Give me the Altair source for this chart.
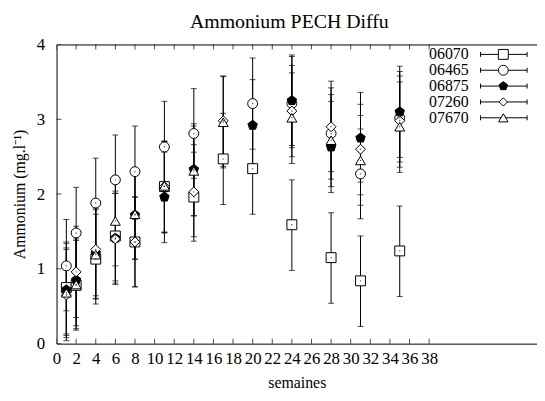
import altair as alt
import pandas as pd

FONT = "Liberation Serif"

title_text = "Ammonium PECH Diffu"
x_title = "semaines"
y_title = "Ammonium (mg.l\u207b\u00b9)"

names = ["06070", "06465", "06875", "07260", "07670"]
shapes = ["square", "circle",
          "M0,-1L0.951,-0.309L0.588,0.809L-0.588,0.809L-0.951,-0.309Z",
          "diamond", "triangle-up"]
fills = ["white", "white", "black", "white", "white"]
sizes = [100, 100, 80, 70, 90]

# 06070 (square)
w_06070 = [1, 2, 4, 6, 8, 11, 14, 17, 20, 24, 28, 31, 35]
v_06070 = [0.75, 0.78, 1.13, 1.44, 1.36, 2.10, 1.96, 2.47, 2.34, 1.59, 1.15, 0.84, 1.24]
lo_06070 = [0.13, 0.18, 0.53, 0.84, 0.76, 1.49, 1.37, 1.86, 1.73, 0.98, 0.54, 0.23, 0.63]
hi_06070 = [1.36, 1.38, 1.73, 2.04, 1.96, 2.70, 2.56, 3.08, 2.94, 2.19, 1.75, 1.44, 1.84]

# 06465 (circle)
w_06465 = [1, 2, 4, 6, 8, 11, 14, 20, 24, 28, 31, 35]
v_06465 = [1.04, 1.48, 1.88, 2.19, 2.30, 2.63, 2.81, 3.21, 3.21, 2.81, 2.27, 3.02]
lo_06465 = [0.44, 0.87, 1.28, 1.59, 1.70, 2.03, 2.21, 2.60, 2.62, 2.20, 1.67, 2.43]
hi_06465 = [1.66, 2.09, 2.48, 2.79, 2.91, 3.24, 3.41, 3.82, 3.84, 3.42, 2.87, 3.64]

# 06875 (filled pentagon)
w_06875 = [1, 2, 4, 6, 8, 11, 14, 20, 24, 28, 31, 35]
v_06875 = [0.72, 0.85, 1.21, 1.41, 1.72, 1.96, 2.33, 2.92, 3.25, 2.63, 2.75, 3.10]
lo_06875 = [0.11, 0.24, 0.60, 0.81, 1.13, 1.35, 1.71, 2.32, 2.65, 2.02, 2.16, 2.49]
hi_06875 = [1.34, 1.45, 1.81, 2.01, 2.32, 2.56, 2.94, 3.53, 3.86, 3.24, 3.36, 3.71]

# 07260 (diamond)
w_07260 = [1, 2, 4, 6, 8, 11, 14, 17, 24, 28, 31, 35]
v_07260 = [0.65, 0.96, 1.26, 1.40, 1.36, 2.10, 2.03, 2.98, 3.11, 2.90, 2.60, 2.98]
lo_07260 = [0.04, 0.35, 0.64, 0.79, 0.76, 1.49, 1.43, 2.37, 2.50, 2.30, 1.99, 2.36]
hi_07260 = [1.26, 1.57, 1.86, 2.01, 1.96, 2.70, 2.66, 3.58, 3.72, 3.51, 3.20, 3.58]

# 07670 (triangle)
w_07670 = [1, 2, 4, 6, 8, 11, 14, 17, 24, 28, 31, 35]
v_07670 = [0.68, 0.79, 1.19, 1.64, 1.73, 2.11, 2.31, 2.96, 3.02, 2.72, 2.45, 2.90]
lo_07670 = [0.08, 0.20, 0.60, 1.04, 1.13, 1.48, 1.71, 2.35, 2.41, 2.10, 1.85, 2.29]
hi_07670 = [1.28, 1.40, 1.79, 2.24, 2.33, 2.71, 2.91, 3.57, 3.62, 3.33, 3.05, 3.50]

x_ticks = [0, 2, 4, 6, 8, 10, 12, 14, 16, 18, 20, 22, 24, 26, 28, 30, 32, 34, 36, 38]
y_ticks = [0, 1, 2, 3, 4]

series = [
    (names[0], w_06070, v_06070, lo_06070, hi_06070),
    (names[1], w_06465, v_06465, lo_06465, hi_06465),
    (names[2], w_06875, v_06875, lo_06875, hi_06875),
    (names[3], w_07260, v_07260, lo_07260, hi_07260),
    (names[4], w_07670, v_07670, lo_07670, hi_07670),
]
frames = []
for name, w, v, lo, hi in series:
    frames.append(pd.DataFrame({"series": name, "week": w, "val": v, "lo": lo, "hi": hi}))
df = pd.concat(frames, ignore_index=True)

W, H = 485, 302
xscale = alt.Scale(domain=[0, 49], nice=False, zero=False)
yscale = alt.Scale(domain=[0, 4], nice=False, zero=False)
xaxis = alt.Axis(values=x_ticks, title=x_title, grid=False, ticks=False, tickSize=0,
                 domain=False, labelPadding=7, format="d",
                 labelFont=FONT, labelFontSize=17, labelColor="black",
                 titleFont=FONT, titleFontSize=16, titleFontWeight="normal", titleColor="black",
                 titleY=39, titleBaseline="middle", labelFlush=False, labelOverlap=False)
yaxis = alt.Axis(values=y_ticks, title=y_title, grid=False, ticks=False, tickSize=0,
                 domain=False, labelPadding=12, format="d",
                 labelFont=FONT, labelFontSize=17, labelColor="black",
                 titleFont=FONT, titleFontSize=16, titleFontWeight="normal", titleColor="black",
                 titleX=-37, titleY=H / 2, titleBaseline="middle", titleAlign="center",
                 labelFlush=False, labelOverlap=False)

X = alt.X("week:Q", scale=xscale, axis=xaxis)
base = alt.Chart(df)

bars = base.mark_rule(color="black", strokeWidth=1).encode(
    x=X, y=alt.Y("lo:Q", scale=yscale, axis=yaxis), y2="hi:Q")
cap_lo = base.mark_tick(orient="horizontal", size=6, thickness=1, color="black").encode(
    x=X, y=alt.Y("lo:Q", scale=yscale, axis=yaxis))
cap_hi = base.mark_tick(orient="horizontal", size=6, thickness=1, color="black").encode(
    x=X, y=alt.Y("hi:Q", scale=yscale, axis=yaxis))

points = base.mark_point(filled=True, stroke="black", strokeWidth=1, opacity=1).encode(
    x=X, y=alt.Y("val:Q", scale=yscale, axis=yaxis),
    shape=alt.Shape("series:N", scale=alt.Scale(domain=names, range=shapes), legend=None),
    fill=alt.Fill("series:N", scale=alt.Scale(domain=names, range=fills), legend=None),
    size=alt.Size("series:N", scale=alt.Scale(domain=names, range=sizes), legend=None),
)
dots = base.mark_point(filled=True, shape="circle", size=2, color="black").encode(
    x=X, y=alt.Y("val:Q", scale=yscale, axis=yaxis))

# inward axis ticks (bottom, top, left) - drawn as clipped ticks on the frame
xt_bottom = pd.DataFrame({"week": x_ticks, "yv": y_ticks[0]})
xt_top = pd.DataFrame({"week": x_ticks, "yv": y_ticks[-1]})
yt_left = pd.DataFrame({"week": x_ticks[0], "yv": y_ticks})
tick_bottom = alt.Chart(xt_bottom).mark_tick(orient="vertical", size=10, thickness=1, color="black", clip=True).encode(
    x=X, y=alt.Y("yv:Q", scale=yscale, axis=yaxis))
tick_top = alt.Chart(xt_top).mark_tick(orient="vertical", size=10, thickness=1, color="black", clip=True).encode(
    x=X, y=alt.Y("yv:Q", scale=yscale, axis=yaxis))
tick_left = alt.Chart(yt_left).mark_tick(orient="horizontal", size=10, thickness=1, color="black", clip=True).encode(
    x=X, y=alt.Y("yv:Q", scale=yscale, axis=yaxis))

# title
title_layer = alt.Chart(pd.DataFrame({"t": [title_text]})).mark_text(
    font=FONT, fontSize=20, color="black", align="center", baseline="alphabetic").encode(
    text="t:N", x=alt.value(235), y=alt.value(-17))

# legend (inside top-right)
legend_layers = []
for i, name in enumerate(names):
    ry = 10 + 16 * i
    ldf = pd.DataFrame({"name": [name]})
    lc = alt.Chart(ldf)
    legend_layers.append(lc.mark_text(font=FONT, fontSize=16, color="black", align="right",
                                      baseline="middle").encode(
        text="name:N", x=alt.value(416), y=alt.value(ry)))
    legend_layers.append(lc.mark_rule(color="black", strokeWidth=1).encode(
        x=alt.value(428), x2=alt.value(475), y=alt.value(ry)))
    legend_layers.append(lc.mark_rule(color="black", strokeWidth=1).encode(
        x=alt.value(428), y=alt.value(ry - 2.5), y2=alt.value(ry + 2.5)))
    legend_layers.append(lc.mark_rule(color="black", strokeWidth=1).encode(
        x=alt.value(475), y=alt.value(ry - 2.5), y2=alt.value(ry + 2.5)))
    legend_layers.append(lc.mark_point(filled=True, stroke="black", strokeWidth=1, opacity=1,
                                       shape=shapes[i], fill=fills[i], size=sizes[i]).encode(
        x=alt.value(451), y=alt.value(ry)))

chart = alt.layer(
    bars, cap_lo, cap_hi, points, dots, tick_bottom, tick_top, tick_left, title_layer,
    *legend_layers
).properties(
    width=W, height=H,
    autosize=alt.AutoSizeParams(type="none"),
    padding={"left": 49, "top": 35, "right": 0, "bottom": 50},
    background="white",
).configure_view(
    stroke="black", strokeWidth=1
).configure_axis(
    labelFont=FONT, labelFontSize=17, labelColor="black", labelOverlap=False,
    titleFont=FONT, titleFontSize=16, titleFontWeight="normal", titleColor="black",
)

chart.save("out.html", embed_options={"renderer": "svg", "actions": False})
